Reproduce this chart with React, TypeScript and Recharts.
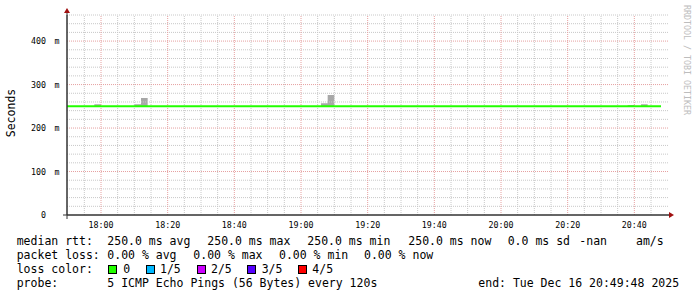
import React from "react";
import { ComposedChart, Line, Area, XAxis, YAxis, ReferenceLine } from "recharts";

// time axis in minutes of the day (17:49:48 .. 20:49:48 + a few px of margin)
const xStart = 1069.8;
const xEnd = 1250.4;

const majorTimeTicks = [1080, 1100, 1120, 1140, 1160, 1180, 1200, 1220, 1240];
const majorTimeLabels = ["18:00", "18:20", "18:40", "19:00", "19:20", "19:40", "20:00", "20:20", "20:40"];
const minorTimeTicks = [
  1075, 1085, 1090, 1095, 1105, 1110, 1115, 1125, 1130, 1135, 1145, 1150, 1155,
  1165, 1170, 1175, 1185, 1190, 1195, 1205, 1210, 1215, 1225, 1230, 1235, 1245,
];

const yTicks = [0, 100, 200, 300, 400];
const majorValueTicks = [100, 200, 300, 400];
const minorValueTicks = [20, 40, 60, 80, 120, 140, 160, 180, 220, 240, 260, 280, 320, 340, 360, 380, 420, 440, 460];

// median rtt (ms)
const medianTimes = [1069.8, 1248];
const medianValues = [250, 250];

// smoke (ping spread above the median), 2-minute steps
const smokeStarts = [1078, 1090, 1092, 1146, 1148, 1238, 1242];
const smokeTops = [255, 255, 269, 257, 276, 253, 255];
const smokeBase = 250;
const stepMinutes = 2;

const legendLine1: [string, number][] = [
  ["median rtt:", 16.7], ["250.0 ms avg", 107.3], ["250.0 ms max", 207.3], ["250.0 ms min", 307.3],
  ["250.0 ms now", 408.3], ["0.0 ms sd", 507.7], ["-nan", 579.3], ["am/s", 636],
];
const legendLine2: [string, number][] = [
  ["packet loss:", 16.7], ["0.00 % avg", 107.3], ["0.00 % max", 193.3], ["0.00 % min", 279], ["0.00 % now", 364],
];
const lossLabels = ["0", "1/5", "2/5", "3/5", "4/5"];
const lossColors = ["#22ff00", "#00b8ff", "#cc00ff", "#5500ff", "#ff0000"];
const lossBoxX = [108, 146, 197, 247, 298];
const lossTextX = [123.3, 160, 211, 261.7, 312.3];
const legendLine4: [string, number][] = [
  ["probe:", 16.7], ["5 ICMP Echo Pings (56 Bytes) every 120s", 107.3], ["end: Tue Dec 16 20:49:48 2025", 478.3],
];

const medianData = medianTimes.map((t, i) => ({ t, median: medianValues[i] }));
const smokeData: { t: number; smoke: [number, number] }[] = [];
smokeStarts.forEach((s, i) => {
  smokeData.push({ t: s, smoke: [smokeBase, smokeTops[i]] });
  if (smokeStarts[i + 1] !== s + stepMinutes) {
    smokeData.push({ t: s + stepMinutes, smoke: [smokeBase, smokeBase] });
  }
});

const MONO = "'DejaVu Sans Mono', monospace";
const GRID_MINOR = "#c8c8c8";
const GRID_MAJOR = "#e6a0a0";
const AXIS = "#333333";
const ARROW = "#a01010";

const XTick = (props: any) => {
  const { x, payload } = props;
  const idx = majorTimeTicks.indexOf(payload.value);
  return (
    <text x={x} y={228} textAnchor="middle" fontFamily={MONO} fontSize={8.3} fill="#000">
      {idx >= 0 ? majorTimeLabels[idx] : ""}
    </text>
  );
};

const YTick = (props: any) => {
  const { y, payload } = props;
  return (
    <g>
      <text x={46} y={y + 3} textAnchor="end" fontFamily={MONO} fontSize={8.3} fill="#000">
        {payload.value}
      </text>
      {payload.value > 0 && (
        <text x={54.5} y={y + 3} textAnchor="start" fontFamily={MONO} fontSize={8.3} fill="#000">
          m
        </text>
      )}
    </g>
  );
};

export default function App() {
  return (
    <div style={{ position: "absolute", left: 0, top: 0, width: 697, height: 297, background: "#fff" }}>
      <ComposedChart width={697} height={297} margin={{ top: 15, right: 28, bottom: 0, left: 0 }}>
        <XAxis
          type="number"
          dataKey="t"
          domain={[xStart, xEnd]}
          ticks={majorTimeTicks}
          interval={0}
          allowDataOverflow
          height={82}
          tickLine={false}
          axisLine={{ stroke: AXIS }}
          tick={<XTick />}
        />
        <YAxis
          type="number"
          domain={[0, 460]}
          ticks={yTicks}
          interval={0}
          allowDataOverflow
          width={67}
          tickLine={false}
          axisLine={{ stroke: AXIS }}
          tick={<YTick />}
        />
        {minorValueTicks.map((v) => (
          <ReferenceLine key={"hy" + v} y={v} stroke={GRID_MINOR} strokeDasharray="1 1" />
        ))}
        {minorTimeTicks.map((v) => (
          <ReferenceLine key={"vx" + v} x={v} stroke={GRID_MINOR} strokeDasharray="1 1" />
        ))}
        {majorValueTicks.map((v) => (
          <ReferenceLine key={"My" + v} y={v} stroke={GRID_MAJOR} strokeDasharray="1 1" />
        ))}
        {majorTimeTicks.map((v) => (
          <ReferenceLine key={"Mx" + v} x={v} stroke={GRID_MAJOR} strokeDasharray="1 1" />
        ))}
        <Area
          data={smokeData}
          dataKey="smoke"
          type="stepAfter"
          fill="#a8a8a8"
          fillOpacity={1}
          stroke="none"
          isAnimationActive={false}
        />
        <Line
          data={medianData}
          dataKey="median"
          type="linear"
          stroke="#22ff00"
          strokeWidth={2}
          dot={false}
          isAnimationActive={false}
        />
      </ComposedChart>
      <svg
        width={697}
        height={297}
        style={{ position: "absolute", left: 0, top: 0, pointerEvents: "none" }}
      >
        {/* axis extensions and arrows */}
        <line x1={67} y1={12} x2={67} y2={219} stroke={AXIS} strokeWidth={1} />
        <line x1={63} y1={215} x2={669} y2={215} stroke={AXIS} strokeWidth={1} />
        <polygon points="64,13 70,13 67,8" fill={ARROW} />
        <polygon points="669,212 669,218 674,215" fill={ARROW} />

        <text
          x={15}
          y={113}
          transform="rotate(-90, 15, 113)"
          textAnchor="middle"
          fontFamily={MONO}
          fontSize={11.5}
          fill="#000"
        >
          Seconds
        </text>
        <text
          x={684}
          y={5}
          transform="rotate(90, 684, 5)"
          textAnchor="start"
          fontFamily={MONO}
          fontSize={8.3}
          fill="#bdbdbd"
        >
          RRDTOOL / TOBI OETIKER
        </text>

        {legendLine1.map(([s, x]) => (
          <text key={"l1" + s} x={x} y={245} fontFamily={MONO} fontSize={11.5} fill="#000">{s}</text>
        ))}
        {legendLine2.map(([s, x]) => (
          <text key={"l2" + s} x={x} y={259} fontFamily={MONO} fontSize={11.5} fill="#000">{s}</text>
        ))}
        <text x={16.7} y={273} fontFamily={MONO} fontSize={11.5} fill="#000">loss color:</text>
        {lossLabels.map((s, i) => (
          <g key={"lc" + s}>
            <rect x={lossBoxX[i] + 0.5} y={265.5} width={8} height={8} fill={lossColors[i]} stroke="#000" strokeWidth={1} />
            <text x={lossTextX[i]} y={273} fontFamily={MONO} fontSize={11.5} fill="#000">{s}</text>
          </g>
        ))}
        {legendLine4.map(([s, x]) => (
          <text key={"l4" + s} x={x} y={287} fontFamily={MONO} fontSize={11.5} fill="#000">{s}</text>
        ))}
      </svg>
    </div>
  );
}
